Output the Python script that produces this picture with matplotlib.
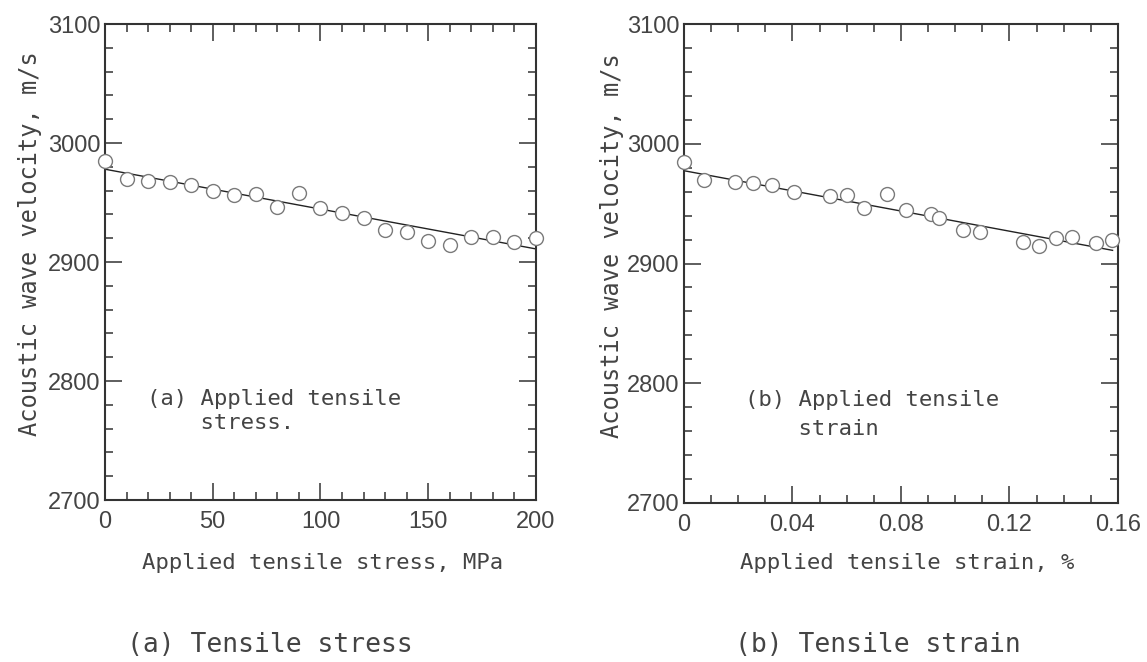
# Acoustic wave velocity vs applied tensile stress / strain
import matplotlib
matplotlib.use('Agg')
import matplotlib.pyplot as plt
from matplotlib.ticker import MultipleLocator

# Data
stress = [0, 10, 20, 30, 40, 50, 60, 70, 80, 90, 100,
          110, 120, 130, 140, 150, 160, 170, 180, 190, 200]
velocity_a = [2985, 2970, 2968, 2967, 2965, 2960, 2956, 2957, 2946, 2958, 2945,
              2941, 2937, 2927, 2925, 2918, 2914, 2921, 2921, 2917, 2920]
fit_a_x = [0, 200]
fit_a_y = [2978, 2911]

strain = [0.000, 0.0075, 0.019, 0.0253, 0.0323, 0.0404, 0.054, 0.060, 0.0665,
          0.0747, 0.082, 0.091, 0.094, 0.103, 0.109, 0.125, 0.131, 0.137,
          0.143, 0.1518, 0.1579]
velocity_b = [2985, 2970, 2968, 2967, 2965.5, 2960, 2956, 2957, 2946, 2958,
              2945, 2941, 2938, 2928, 2926, 2918, 2914.5, 2921.5, 2922, 2917,
              2920]
fit_b_x = [0, 0.158]
fit_b_y = [2977.5, 2911]

xticks_a = [0, 50, 100, 150, 200]
xticks_b = [0, 0.04, 0.08, 0.12, 0.16]
xlabels_b = ['0', '0.04', '0.08', '0.12', '0.16']
yticks = [2700, 2800, 2900, 3000, 3100]

MONO = 'DejaVu Sans Mono'
NUM = ['Liberation Sans', 'DejaVu Sans']
INK = '#333333'

fig = plt.figure(figsize=(11.47, 6.62), dpi=100)
ax_a = fig.add_axes([0.0915, 0.2447, 0.3758, 0.7190])
ax_b = fig.add_axes([0.5963, 0.2402, 0.3784, 0.7235])


def style(ax, x, y, fx, fy, xticks, xlabels, xmax, minor):
    ax.plot(fx, fy, color='#222222', lw=1.0, zorder=2)
    ax.plot(x, y, 'o', ms=10, mfc='white', mec='#7a7a7a', mew=1.0,
            zorder=3, clip_on=False)
    ax.set_xlim(0, xmax)
    ax.set_ylim(2700, 3100)
    ax.set_xticks(xticks)
    ax.set_xticklabels(xlabels)
    ax.set_yticks(yticks)
    ax.xaxis.set_minor_locator(MultipleLocator(minor))
    ax.yaxis.set_minor_locator(MultipleLocator(20))
    ax.tick_params(which='both', direction='in', top=True, right=True,
                   color=INK, width=1.1)
    ax.tick_params(which='major', length=12)
    ax.tick_params(which='minor', length=6)
    ax.tick_params(axis='x', which='major', pad=8)
    ax.tick_params(axis='y', which='major', pad=3)
    for lab in ax.get_xticklabels() + ax.get_yticklabels():
        lab.set_family(NUM)
        lab.set_fontsize(17)
        lab.set_color('#444444')
    for sp in ax.spines.values():
        sp.set_linewidth(1.5)
        sp.set_color(INK)
    ax.set_ylabel('Acoustic wave velocity, m/s', family=MONO, fontsize=17,
                  color='#444444', va='center')


style(ax_a, stress, velocity_a, fit_a_x, fit_a_y, xticks_a,
      [str(t) for t in xticks_a], 200, 10)
style(ax_b, strain, velocity_b, fit_b_x, fit_b_y, xticks_b, xlabels_b,
      0.16, 0.01)

ax_a.set_xlabel('Applied tensile stress, MPa', family=MONO, fontsize=16,
                color='#444444', va='center')
ax_b.set_xlabel('Applied tensile strain, %', family=MONO, fontsize=16,
                color='#444444', va='center')
ax_a.xaxis.set_label_coords(0.505, -0.132)
ax_b.xaxis.set_label_coords(0.515, -0.125)
ax_a.yaxis.set_label_coords(-0.174, 0.538)
ax_b.yaxis.set_label_coords(-0.166, 0.538)

ax_a.text(0.0975, 0.187, '(a) Applied tensile\n    stress.', transform=ax_a.transAxes,
          family=MONO, fontsize=16, color='#444444', ha='left', va='center',
          linespacing=1.3)
ax_b.text(0.1406, 0.185, '(b) Applied tensile\n    strain', transform=ax_b.transAxes,
          family=MONO, fontsize=16, color='#444444', ha='left', va='center',
          linespacing=1.55)

fig.text(270 / 1147, 1 - 645 / 662, '(a) Tensile stress', family=MONO,
         fontsize=19, color='#444444', ha='center', va='center')
fig.text(878 / 1147, 1 - 645 / 662, '(b) Tensile strain', family=MONO,
         fontsize=19, color='#444444', ha='center', va='center')

fig.savefig('out.png', dpi=100)
